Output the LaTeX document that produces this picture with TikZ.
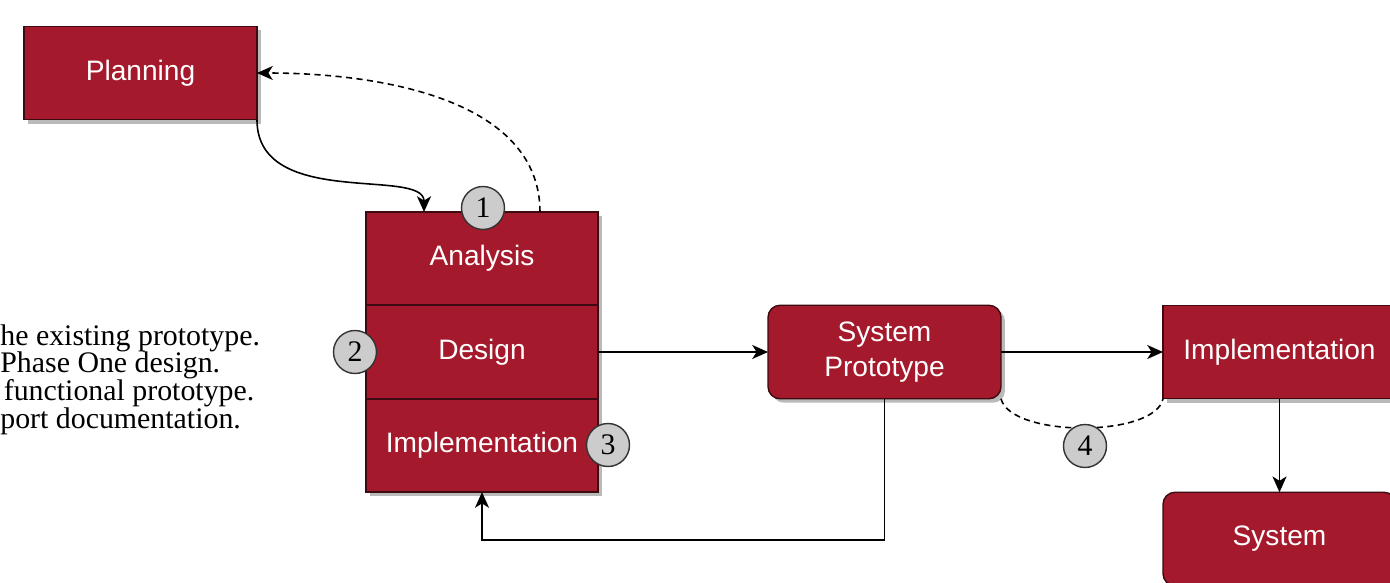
\documentclass[tikz,border=0pt]{standalone}
\usepackage{fontspec}
\setmainfont{Liberation Serif}
\setsansfont{Liberation Sans}
\usepackage{xcolor}
\usetikzlibrary{calc,shadows,arrows.meta}

\definecolor{boxred}{RGB}{165,25,44}
\definecolor{boxedge}{RGB}{60,10,16}
\definecolor{badgegray}{RGB}{204,204,204}

\tikzset{
    phase/.style={draw=boxedge,fill=boxred,line width=0.8pt,inner sep=0pt,outer sep=0pt,
        minimum width=4.66cm,minimum height=1.87cm,text=white,align=center,
        font=\sffamily\fontsize{16}{19.5}\selectfont,
        drop shadow={shadow xshift=0.08cm,shadow yshift=-0.08cm,fill=gray!55,opacity=1}},
    badge/.style={circle,draw=black!80,fill=badgegray,line width=0.8pt,minimum size=0.86cm,
        inner sep=0pt,font=\fontsize{17}{17}\selectfont},
    flow/.style={line width=0.9pt,-{Stealth[length=9pt,width=8pt,inset=2.5pt]}},
    loose/.style={line width=0.9pt,dash pattern=on 3.5pt off 2.5pt}
}

\begin{document}
\begin{tikzpicture}[x=0.02cm,y=-0.02cm]
    \useasboundingbox (0,0) rectangle (1390,582);

    % notes on the left
    \node[anchor=north west,inner sep=0pt,align=left,
          font={\fontsize{17}{15.8}\selectfont\lineskiplimit=-20pt}] (notes) at (0,324)
        {he existing prototype.\\Phase One design.\\\hspace{2pt}functional prototype.\\port documentation.};

    % boxes
    \node[phase] (plan) at (140.5,73) {Planning};
    \node[phase,minimum height=1.86cm,minimum width=4.64cm] (ana) at (482,258.5) {Analysis};
    \node[phase,minimum height=1.88cm,minimum width=4.64cm] (des) at (482,352) {Design};
    \node[phase,minimum height=1.86cm,minimum width=4.64cm] (imp) at (482,445.5) {Implementation};
    \node[phase,rounded corners=0.24cm] (proto) at (884.5,352) {System\\Prototype};
    \node[phase] (impl) at (1279.5,352) {Implementation};
    \node[phase,rounded corners=0.24cm] (sys) at (1279.5,539) {System};

    % connectors
    \draw[flow] (plan.south east) .. controls +(0,90) and +(0,-45) .. ($(ana.north west)!0.25!(ana.north east)$);
    \draw[loose,-{Stealth[length=9pt,width=8pt,inset=2.5pt]}] ($(ana.north west)!0.75!(ana.north east)$) .. controls +(0,-110) and +(130,0) .. (plan.east);
    \draw[flow] (des.east) -- (proto.west);
    \draw[flow] (proto.east) -- (impl.west);
    \draw[flow] (impl.south) -- (sys.north);
    \draw[flow] (proto.south) -- ++(0,141) -| (imp.south);
    \draw[loose] (proto.south east) .. controls +(10,39) and +(-8,39) .. (impl.south west);

    % numbered badges
    \node[badge] (b1) at (483,208) {1};
    \node[badge] (b2) at (355,352) {2};
    \node[badge] (b3) at (608,445) {3};
    \node[badge] (b4) at (1085,446) {4};
\end{tikzpicture}
\end{document}
